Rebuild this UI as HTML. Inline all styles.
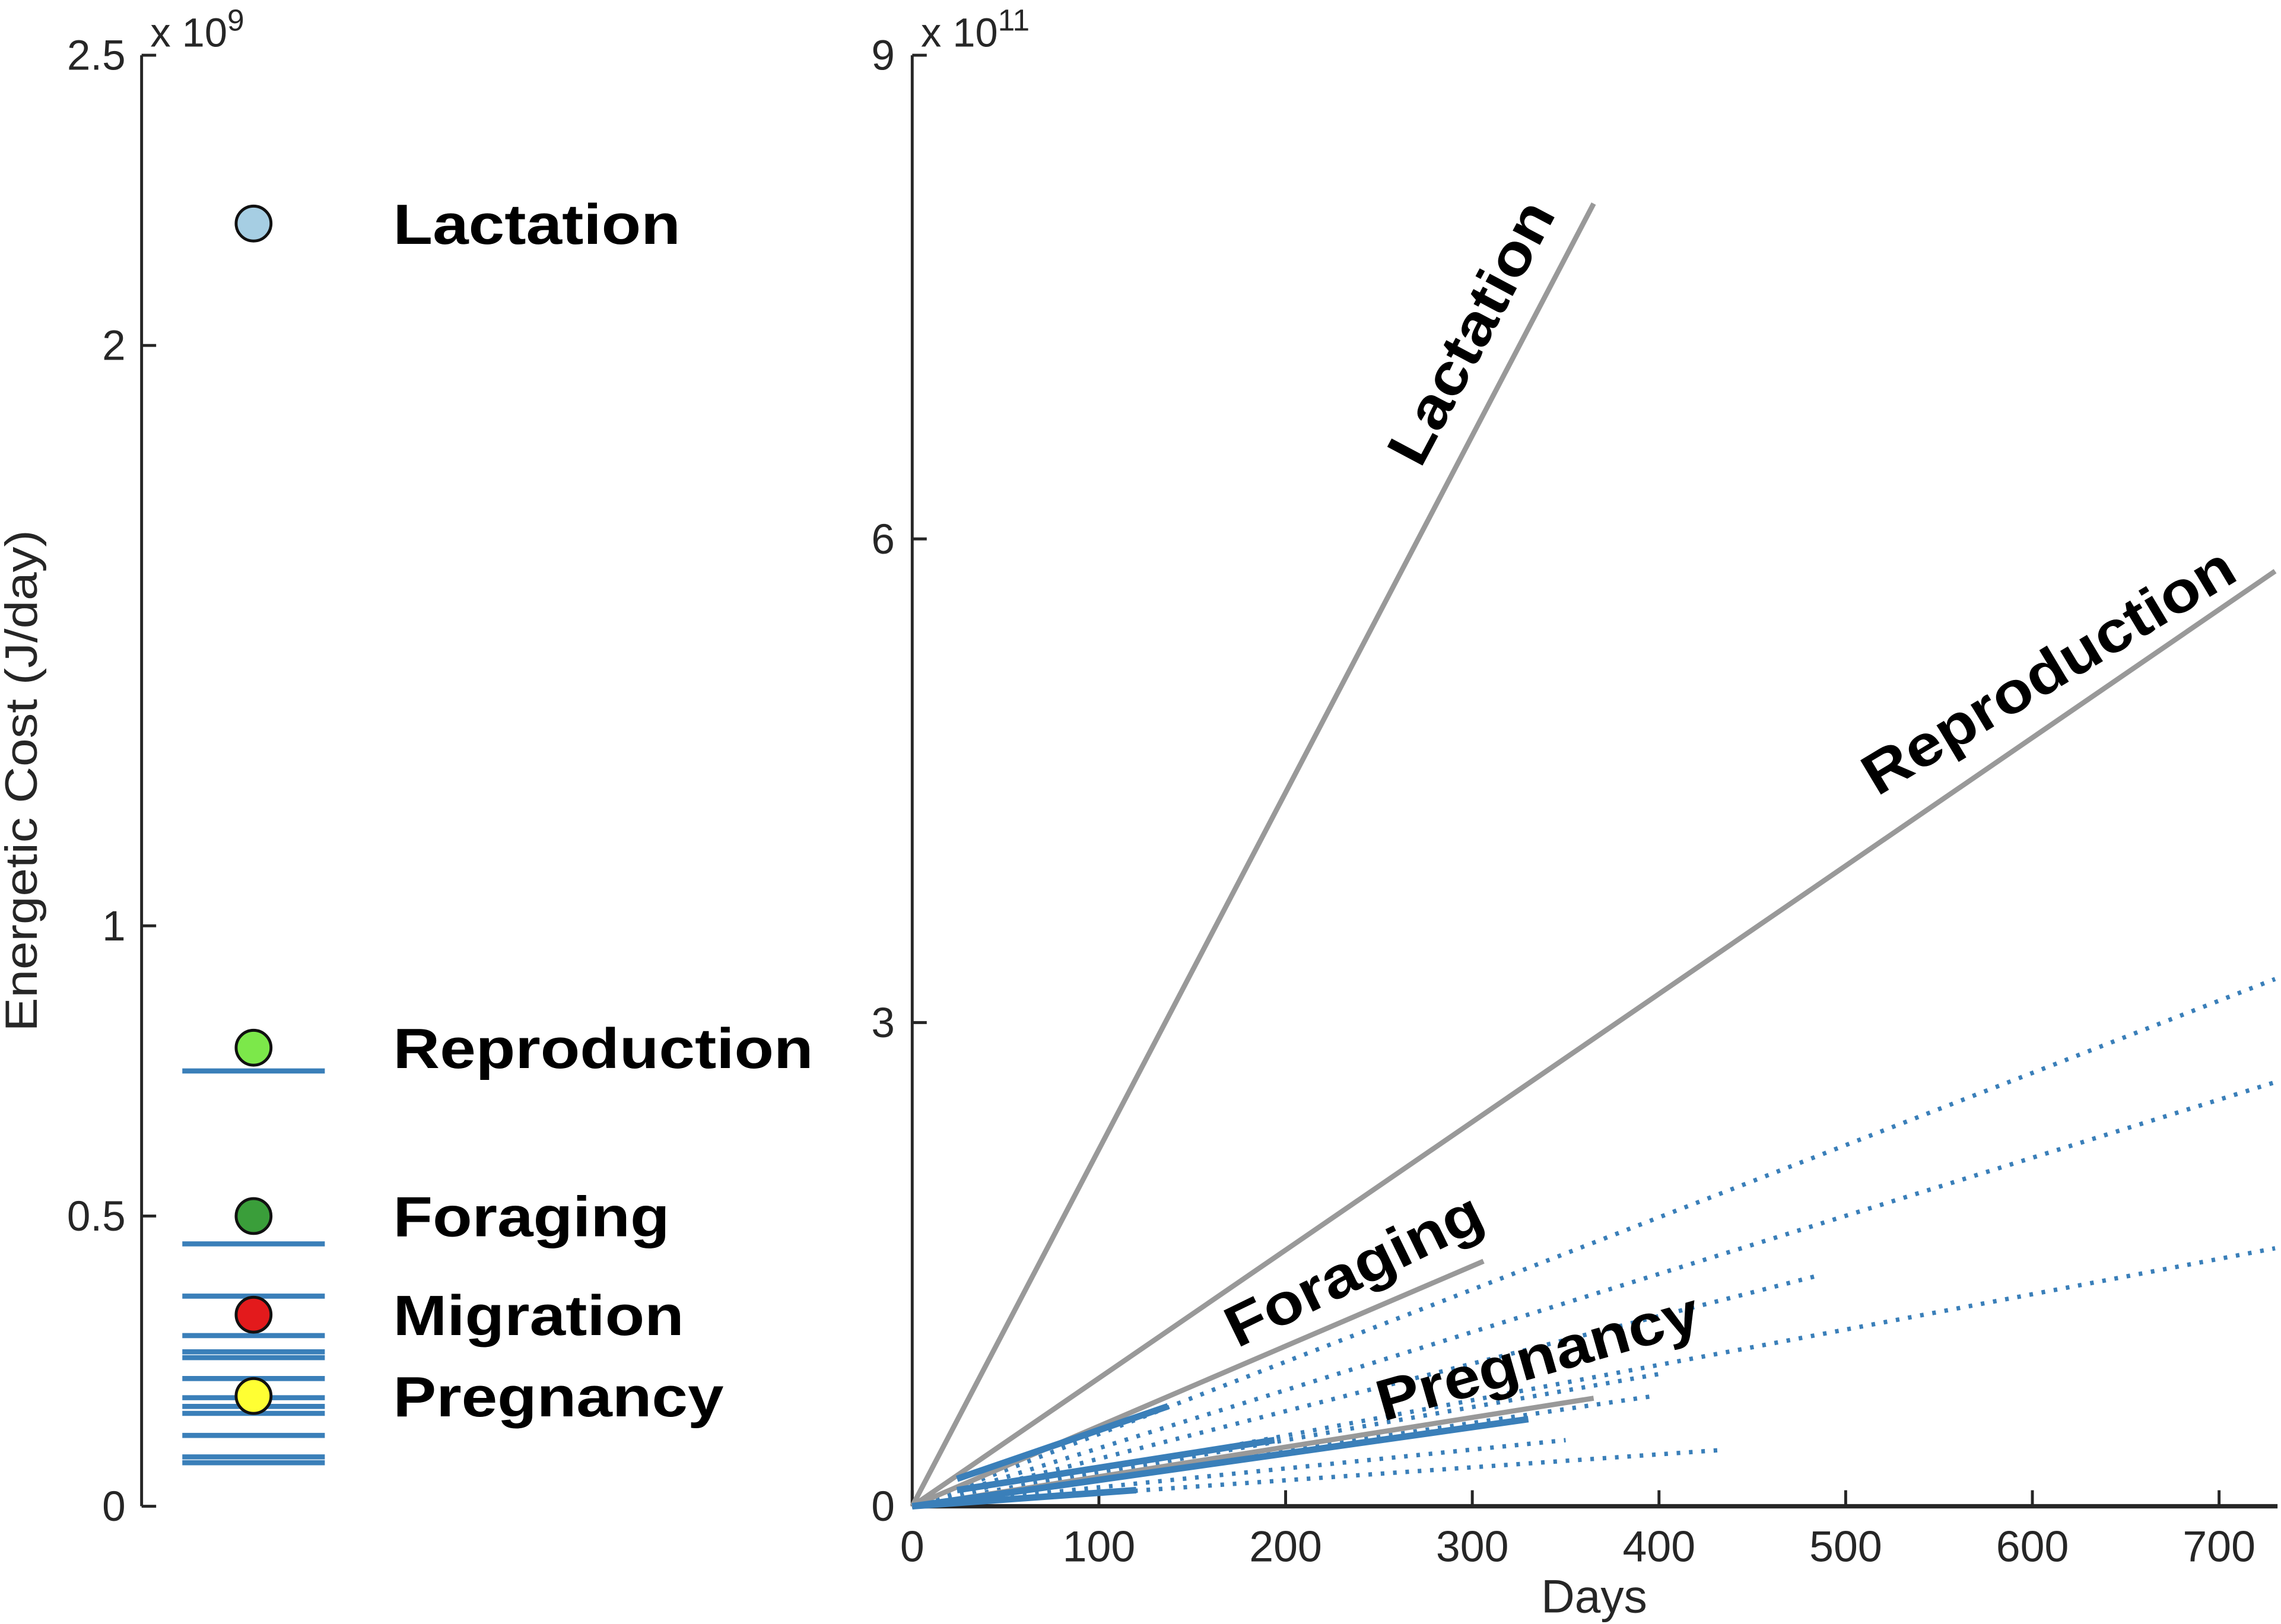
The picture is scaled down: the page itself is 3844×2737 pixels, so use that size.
<!DOCTYPE html>
<html><head><meta charset="utf-8"><style>
html,body{margin:0;padding:0;background:#fff;}
svg{display:block;}
text{font-family:"Liberation Sans",sans-serif;}
</style></head><body>
<svg id="chart" width="3844" height="2737" viewBox="0 0 1568 1117" xmlns="http://www.w3.org/2000/svg">
<g id="left"></g>
<g id="right"></g>
</svg>
<script>
// Left panel data (J/day)
const leftTicks=[0,0.5,1,2,2.5];
const leftTickLabels=["0","0.5","1","2","2.5"];
const markerNames=["Lactation","Reproduction","Foraging","Migration","Pregnancy"];
const markerValues=[2.21,0.79,0.50,0.33,0.19];
const markerColors=["#a6cee3","#7ce84a","#3a9e3a","#e31a1c","#ffff33"];
const hlineValues=[0.75,0.452,0.362,0.294,0.266,0.256,0.22,0.187,0.172,0.16,0.122,0.085,0.075];
// Right panel data (days, J x1e11)
const xTicks=[0,100,200,300,400,500,600,700];
const yTicks=[0,3,6,9];
const grayNames=["Lactation","Reproduction","Foraging","Pregnancy"];
const grayEndDay=[365,730,306,365];
const grayEndVal=[8.08,5.8,1.52,0.67];
const solidStartDay=[24,24,0,0];
const solidStartVal=[0.17,0.1,0,0];
const solidEndDay=[137,194,330,120];
const solidEndVal=[0.62,0.41,0.54,0.1];
const dotEndDay=[730,730,485,730,400,395,350,435];
const dotEndVal=[3.27,2.63,1.43,1.6,0.82,0.68,0.41,0.35];

const NS="http://www.w3.org/2000/svg";
function mk(parent,tag,attrs,name,txt){const e=document.createElementNS(NS,tag);for(const k in attrs)e.setAttribute(k,attrs[k]);


if(txt!==undefined)e.textContent=txt;parent.appendChild(e);return e;}

// Left axes
const L=document.getElementById('left');
const ly=v=>1036-v/2.5*998;
mk(L,'line',{x1:97,y1:ly(0),x2:97,y2:ly(2.5),stroke:'#262626','stroke-width':2},'left-y-axis');
leftTicks.forEach((t,i)=>{
 mk(L,'line',{x1:97,y1:ly(t),x2:107,y2:ly(t),stroke:'#262626','stroke-width':2},'left-y-tick');
 mk(L,'text',{x:86,y:ly(t)+10,'text-anchor':'end','font-size':29,fill:'#262626'},'left-y-tick-label',leftTickLabels[i]);
});
const ex=mk(L,'text',{x:103,y:32,'font-size':28,fill:'#262626'},'left-exponent','x 10');
const ts=document.createElementNS(NS,'tspan');ts.setAttribute('dy','-11');ts.setAttribute('font-size','21');ts.textContent='9';ex.appendChild(ts);
mk(L,'text',{x:0,y:0,'font-size':31,fill:'#262626','text-anchor':'middle',textLength:345,lengthAdjust:'spacingAndGlyphs',transform:'translate(25,537) rotate(-90)'},'y-axis-title','Energetic Cost (J/day)');
hlineValues.forEach(v=>{mk(L,'line',{x1:125,x2:223,y1:ly(v),y2:ly(v),stroke:'#3a7fb9','stroke-width':3.5},'cost-line');});
markerValues.forEach((v,i)=>{
 mk(L,'circle',{cx:174,cy:ly(v),r:12,fill:markerColors[i],stroke:'#111','stroke-width':2},'marker-'+markerNames[i].toLowerCase());
 mk(L,'text',{x:0,y:0,'font-size':39,'font-weight':'bold',fill:'#000',transform:`translate(270,${ly(v)+14}) scale(1.14,1)`},'label-'+markerNames[i].toLowerCase(),markerNames[i]);
});

// Right axes
const R=document.getElementById('right');
const rx=d=>627+d/100*128.4;
const ry=v=>1036-v/9*998;
mk(R,'line',{x1:627,y1:ry(0),x2:627,y2:ry(9),stroke:'#262626','stroke-width':2},'right-y-axis');
mk(R,'line',{x1:627,y1:1036,x2:1566,y2:1036,stroke:'#262626','stroke-width':3},'x-axis');
yTicks.forEach(t=>{
 mk(R,'line',{x1:627,y1:ry(t),x2:637,y2:ry(t),stroke:'#262626','stroke-width':2},'right-y-tick');
 mk(R,'text',{x:615,y:ry(t)+10,'text-anchor':'end','font-size':29,fill:'#262626'},'right-y-tick-label',String(t));
});
xTicks.forEach(t=>{
 mk(R,'line',{x1:rx(t),y1:1036,x2:rx(t),y2:1025,stroke:'#262626','stroke-width':2},'x-tick');
 mk(R,'text',{x:rx(t),y:1074,'text-anchor':'middle','font-size':30,fill:'#262626'},'x-tick-label',String(t));
});
mk(R,'text',{x:1096,y:1109,'text-anchor':'middle','font-size':32,fill:'#262626'},'x-axis-title','Days');
const ex2=mk(R,'text',{x:633,y:32,'font-size':28,fill:'#262626'},'right-exponent','x 10');
const ts2=document.createElementNS(NS,'tspan');ts2.setAttribute('dy','-11');ts2.setAttribute('font-size','21');ts2.textContent='11';ex2.appendChild(ts2);

dotEndDay.forEach((d,i)=>{mk(R,'line',{x1:rx(0),y1:ry(0),x2:rx(d),y2:ry(dotEndVal[i]),stroke:'#3a7fb9','stroke-width':3,'stroke-dasharray':'2.5 6'},'dotted-projection');});
grayEndDay.forEach((d,i)=>{mk(R,'line',{x1:rx(0),y1:ry(0),x2:rx(d),y2:ry(grayEndVal[i]),stroke:'#999','stroke-width':3.5},'gray-line-'+grayNames[i].toLowerCase());});
solidEndDay.forEach((d,i)=>{mk(R,'line',{x1:rx(solidStartDay[i]),y1:ry(solidStartVal[i]),x2:rx(d),y2:ry(solidEndVal[i]),stroke:'#3a7fb9','stroke-width':4.5},'solid-blue-line');});

const lab=[["Lactation",1014,230,-62],["Reproduction",1410,464,-31],["Foraging",932,876,-26],["Pregnancy",1058,936,-16]];
lab.forEach(l=>{mk(R,'text',{x:0,y:0,'font-size':40,'font-weight':'bold',fill:'#000','text-anchor':'middle','dominant-baseline':'middle',transform:`translate(${l[1]},${l[2]}) rotate(${l[3]}) scale(1.12,1)`},'line-label-'+l[0].toLowerCase(),l[0]);});
</script>
</body></html>
